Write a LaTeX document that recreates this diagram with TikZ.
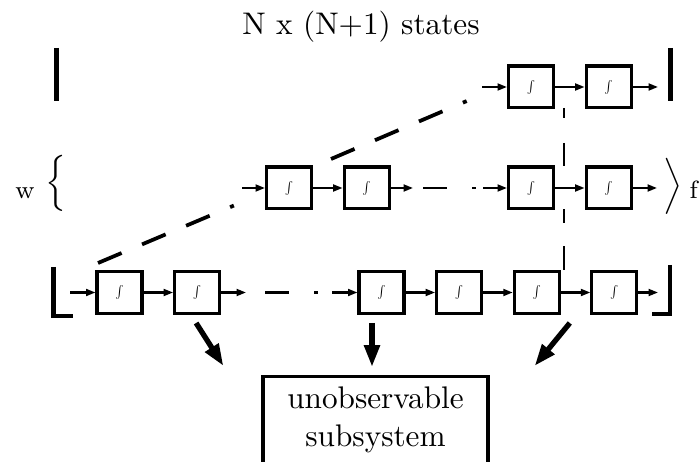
\documentclass[tikz,border=0pt]{standalone}
\usepackage{graphicx}
\usetikzlibrary{positioning, arrows.meta, calc}
\newcommand{\intglyph}{\scalebox{0.4}{$\int$}}

\begin{document}
\begin{tikzpicture}[
            x=0.32pt, y=-0.32pt,
            intg/.style={rectangle, draw, line width=1pt, fill=white, minimum width=14.4pt,
                        minimum height=13.4pt, inner sep=0pt},
            flow/.style={-{Triangle[length=3pt, width=2.2pt]}, line width=0.65pt},
            skip/.style={line width=0.65pt, dash pattern=on 7.8pt off 8pt on 1pt off 20pt},
            slant/.style={line width=1.2pt, dash pattern=on 8.2pt off 7.1pt on 8.2pt off 7.1pt on 8.2pt off 7.1pt on 1.3pt off 30pt},
            fat/.style={-{Triangle[length=7pt, width=4.8pt]}, line width=1.7pt},
            bar/.style={line width=1.5pt},
            node distance=9.44pt,
        ]
            \useasboundingbox (0,0) rectangle (699,462);
            \clip (0,0) rectangle (699,462);

            % Slanted dash-dot lines, drawn first
            \coordinate (slant1a) at (98,263);
            \coordinate (slant1b) at (234,205.5);
            \coordinate (slant2a) at (331,159);
            \coordinate (slant2b) at (468,100.5);
            \draw[slant] (slant1a) -- (slant1b);
            \draw[slant] (slant2a) -- (slant2b);

            % Vertical cut between the last two columns
            \coordinate (vtop) at (564,108);
            \coordinate (vbot) at (564,270);
            \draw[line width=0.8pt, dash pattern=on 3.2pt off 8pt on 7.4pt off 13.8pt on 4.5pt off 7.4pt on 7.7pt off 5pt] (vtop) -- (vbot);

            \node[anchor=base] (title) at (361,35) {N x (N+1) states};

            % Top row
            \node[intg] (t1) at (531,87) {\intglyph};
            \node[intg, right=of t1] (t2) {\intglyph};
            \coordinate (tin) at (482,87);
            \coordinate (tend) at (658,87);

            % Middle row
            \node[intg] (m1) at (289,188) {\intglyph};
            \node[intg, right=of m1] (m2) {\intglyph};
            \node[intg] (m3) at (531,188) {\intglyph};
            \node[intg, right=of m3] (m4) {\intglyph};
            \coordinate (min) at (242,188);
            \coordinate (mout) at (413,188);
            \coordinate (mgap) at (423,188);
            \coordinate (min2) at (483,188);
            \coordinate (mend) at (657,188);

            % Bottom row
            \node[intg] (b1) at (119.5,292.5) {\intglyph};
            \node[intg, right=of b1] (b2) {\intglyph};
            \node[intg] (b3) at (381.5,292.5) {\intglyph};
            \node[intg, right=of b3] (b4) {\intglyph};
            \node[intg, right=of b4] (b5) {\intglyph};
            \node[intg, right=of b5] (b6) {\intglyph};
            \coordinate (bin) at (70,292.5);
            \coordinate (bout) at (246,292.5);
            \coordinate (bgap) at (265,292.5);
            \coordinate (bin2) at (332,292.5);
            \coordinate (bend) at (658,292.5);

            \draw[flow] (tin) -- (t1);
            \draw[flow] (t1) -- (t2);
            \draw[flow] (t2) -- (tend);

            \draw[flow] (min) -- (m1);
            \draw[flow] (m1) -- (m2);
            \draw[flow] (m2) -- (mout);
            \draw[skip] (mgap) -- (min2);
            \draw[flow] (min2) -- (m3);
            \draw[flow] (m3) -- (m4);
            \draw[flow] (m4) -- (mend);

            \draw[flow] (bin) -- (b1);
            \draw[flow] (b1) -- (b2);
            \draw[flow] (b2) -- (bout);
            \draw[skip] (bgap) -- (bin2);
            \draw[flow] (bin2) -- (b3);
            \draw[flow] (b3) -- (b4);
            \draw[flow] (b4) -- (b5);
            \draw[flow] (b5) -- (b6);
            \draw[flow] (b6) -- (bend);

            % Delimiters round the rows
            \draw[bar] (56.5,48) -- (56.5,101);
            \draw[bar] (670.5,48) -- (670.5,101);
            \draw[bar] (53.5,267) |- (73,316);
            \draw[bar] (670,265) |- (652,314);
            \node[anchor=base, font=\footnotesize] (wlabel) at (25,198) {w};
            \node[inner sep=0pt] (wbrace) at (56,183.5) {$\Big\{$};
            \node[inner sep=0pt] (fangle) at (673.5,186.5) {$\Big\rangle$};
            \node[anchor=base west, inner sep=0pt, font=\footnotesize] (flabel) at (689,199) {f};

            % Unobservable part
            \node[draw, line width=1pt, minimum width=72pt, align=center, anchor=north] (unobs) at (375.5,375) {unobservable\\subsystem\rule[-12pt]{0pt}{1pt}};
            \coordinate (lsrc) at ($(b2.south)+(-1,8)$);
            \coordinate (ltip) at ($(unobs.north west)+(-38,-9)$);
            \coordinate (msrc) at ($(b3.south)+(-9.5,8)$);
            \coordinate (mtip) at ($(unobs.north)+(-3.5,-8)$);
            \coordinate (rsrc) at ($(b5.south east)+(9,8)$);
            \coordinate (rtip) at ($(unobs.north east)+(45,-9)$);
            \draw[fat] (lsrc) -- (ltip);
            \draw[fat] (msrc) -- (mtip);
            \draw[fat] (rsrc) -- (rtip);
        \end{tikzpicture}
\end{document}
